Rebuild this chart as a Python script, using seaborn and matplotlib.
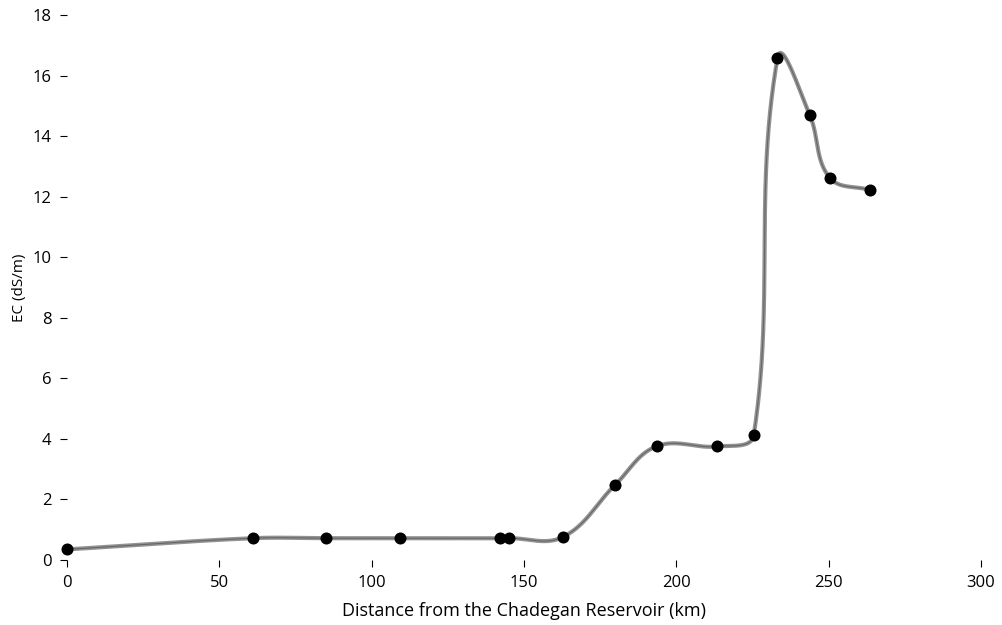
import numpy as np
import pandas as pd
import matplotlib
matplotlib.use("Agg")
import matplotlib.pyplot as plt
import seaborn as sns

# Data
distance_km = [0, 61, 85, 109.3, 142.1, 145, 162.8, 179.9, 193.6, 213.5, 225.4, 233.2, 243.8, 250.3, 263.6]
ec_dsm = [0.35, 0.72, 0.72, 0.72, 0.72, 0.72, 0.76, 2.48, 3.76, 3.75, 4.12, 16.57, 14.69, 12.63, 12.22]
x_ticks = [0, 50, 100, 150, 200, 250, 300]
y_ticks = [0, 2, 4, 6, 8, 10, 12, 14, 16, 18]

W, H = 1003, 625
sns.set_style("white")
plt.rcParams['font.family'] = ['Open Sans', 'DejaVu Sans']

fig = plt.figure(figsize=(W / 100, H / 100), dpi=100)
left, right, top, bottom = 67, 981, 15, 560
ax = fig.add_axes([left / W, 1 - bottom / H, (right - left) / W, (bottom - top) / H])

# Smooth curve through the points (Bezier, control length tied to segment length), in screen units
sx = (right - left) / 300.0
sy = (bottom - top) / 18.0
P = np.column_stack([np.array(distance_km) * sx, np.array(ec_dsm) * sy])
n = len(P)
dirs = []
for i in range(n):
    a = P[i - 1] if i > 0 else P[i]
    b = P[i + 1] if i + 1 < n else P[i]
    d = b - a
    dirs.append(d / np.linalg.norm(d))
dirs = np.array(dirs)
k = 0.36
curve = []
t = np.linspace(0, 1, 80)[:, None]
for i in range(n - 1):
    p0, p3 = P[i], P[i + 1]
    L = np.linalg.norm(p3 - p0)
    c1 = p0 + dirs[i] * L * k
    c2 = p3 - dirs[i + 1] * L * k
    seg = (1 - t) ** 3 * p0 + 3 * (1 - t) ** 2 * t * c1 + 3 * (1 - t) * t ** 2 * c2 + t ** 3 * p3
    curve.append(seg if i == 0 else seg[1:])
curve = np.vstack(curve)
curve_df = pd.DataFrame({"x": curve[:, 0] / sx, "y": curve[:, 1] / sy})
pts_df = pd.DataFrame({"x": distance_km, "y": ec_dsm})

sns.lineplot(data=curve_df, x="x", y="y", sort=False, estimator=None, ax=ax,
             color="#939393", linewidth=3.0)
sns.lineplot(data=curve_df, x="x", y="y", sort=False, estimator=None, ax=ax,
             color="#3a3a3a", linewidth=0.8, alpha=0.5)
sns.scatterplot(data=pts_df, x="x", y="y", ax=ax, color="black", s=75,
                edgecolor="black", linewidth=0, zorder=5, clip_on=False)

ax.set_xlim(0, 300)
ax.set_ylim(0, 18)
ax.set_xticks(x_ticks)
ax.set_yticks(y_ticks)
for s in ax.spines.values():
    s.set_visible(False)
ax.tick_params(axis="both", which="major", labelsize=12, colors="black",
               direction="out", length=5, width=0.8, pad=6, left=True, bottom=True)
ax.set_xlabel("Distance from the Chadegan Reservoir (km)", fontsize=13, labelpad=8, color="black")
ax.set_ylabel("EC (dS/m)", fontsize=11, labelpad=4, color="black")

fig.savefig("out.png", dpi=100)
